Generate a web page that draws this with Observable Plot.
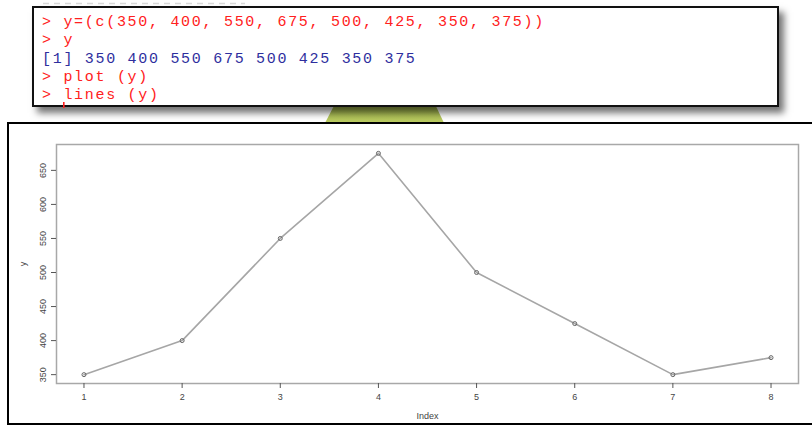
<!DOCTYPE html>
<html>
<head>
<meta charset="utf-8">
<script src="https://cdn.jsdelivr.net/npm/d3@7"></script>
<script src="https://cdn.jsdelivr.net/npm/@observablehq/plot@0.6"></script>
<style>
  html, body { margin: 0; padding: 0; background: #fff; }
  body { width: 812px; height: 427px; overflow: hidden; position: relative; font-family: "Liberation Sans", Arial, sans-serif; }
  #ghost { position: absolute; left: 0; top: 0; z-index: 1; }
  #trap { position: absolute; left: 0; top: 0; z-index: 1; }
  #console { position: absolute; left: 32px; top: 6px; width: 747px; height: 101px; box-sizing: border-box;
             border: 2px solid #111; background: #fff; box-shadow: 5px 6px 7px rgba(0,0,0,0.55); z-index: 2; }
  #frame { position: absolute; left: 7px; top: 122px; width: 830px; height: 303px; box-sizing: border-box;
           border: 2.5px solid #000; z-index: 3; }
  #chart { position: absolute; left: 0; top: 123px; z-index: 4; }
  #console svg { position: absolute; left: -34px; top: -8px; }
</style>
</head>
<body>
<svg id="ghost" width="812" height="6"></svg>
<svg id="trap" width="812" height="130"></svg>
<div id="console"></div>
<div id="frame"></div>
<div id="chart"></div>
<script>
// ---- data ----
const index = [1, 2, 3, 4, 5, 6, 7, 8];
const yValues = [350, 400, 550, 675, 500, 425, 350, 375];
const xTicks = [1, 2, 3, 4, 5, 6, 7, 8];
const yTicks = [350, 400, 450, 500, 550, 600, 650];
const consoleLines = [
  {text: "> y=(c(" + yValues.join(", ") + "))", color: "#ff2020"},
  {text: "> y", color: "#ff2020"},
  {text: "[1] " + yValues.join(" "), color: "#2e2e9e"},
  {text: "> plot (y)", color: "#ff2020"},
  {text: "> lines (y)", color: "#ff2020"}
];

// ---- decorations (console screenshot) ----
const ns = "http://www.w3.org/2000/svg";
// green trapezoid behind the console
document.getElementById("trap").innerHTML = `
  <defs><linearGradient id="gg" x1="0" y1="0" x2="0" y2="1">
    <stop offset="0" stop-color="#93a842"/><stop offset="1" stop-color="#bccd62"/></linearGradient></defs>
  <polygon points="337,100 433,100 444,123 325,123" fill="url(#gg)"/>`;

// cut-off bottom of the previous console line, above the box
document.getElementById("ghost").innerHTML =
  `<line x1="43" y1="3.5" x2="245" y2="3.5" stroke="#dadada" stroke-width="1.5" stroke-dasharray="6 5"/>`;

const csvg = document.createElementNS(ns, "svg");
csvg.setAttribute("width", 812);
csvg.setAttribute("height", 110);
consoleLines.forEach((l, i) => {
  const t = document.createElementNS(ns, "text");
  t.setAttribute("x", 42);
  t.setAttribute("y", 26 + i * 18.3);
  t.setAttribute("font-family", "Liberation Mono, Courier New, monospace");
  t.setAttribute("font-size", "15px");
  t.setAttribute("letter-spacing", "1.7px");
  t.setAttribute("fill", l.color);
  t.setAttribute("xml:space", "preserve");
  t.textContent = l.text;
  csvg.appendChild(t);
});
const cur = document.createElementNS(ns, "rect");
cur.setAttribute("x", 63); cur.setAttribute("y", 102); cur.setAttribute("width", 1.6); cur.setAttribute("height", 6);
cur.setAttribute("fill", "#ff2020");
csvg.appendChild(cur);
document.getElementById("console").appendChild(csvg);

// ---- chart ----
const data = index.map((x, i) => ({index: x, y: yValues[i]}));

const chart = Plot.plot({
  width: 812,
  height: 304,
  marginLeft: 56,
  marginRight: 14,
  marginTop: 21,
  marginBottom: 44,
  style: {fontFamily: "Liberation Sans, Arial, sans-serif", fontSize: "9px", color: "#444", background: "transparent", overflow: "visible"},
  x: {domain: [0.72, 8.28]},
  y: {domain: [337, 688]},
  marks: [
    Plot.frame({stroke: "#a8a8a8", strokeWidth: 1.5}),
    Plot.axisX({ticks: xTicks, tickSize: 5, tickPadding: 5, stroke: "#555", label: "Index",
                labelAnchor: "center", labelOffset: 35, labelArrow: "none"}),
    Plot.axisY({ticks: yTicks, tickSize: 5, tickPadding: 6, tickRotate: -90, stroke: "#555", label: "y",
                labelAnchor: "center", labelOffset: 37, labelArrow: "none"}),
    Plot.line(data, {x: "index", y: "y", stroke: "#a6a6a6", strokeWidth: 1.6}),
    Plot.dot(data, {x: "index", y: "y", r: 2, stroke: "#666", fill: "none", strokeWidth: 1})
  ]
});
document.getElementById("chart").appendChild(chart);
</script>
</body>
</html>
